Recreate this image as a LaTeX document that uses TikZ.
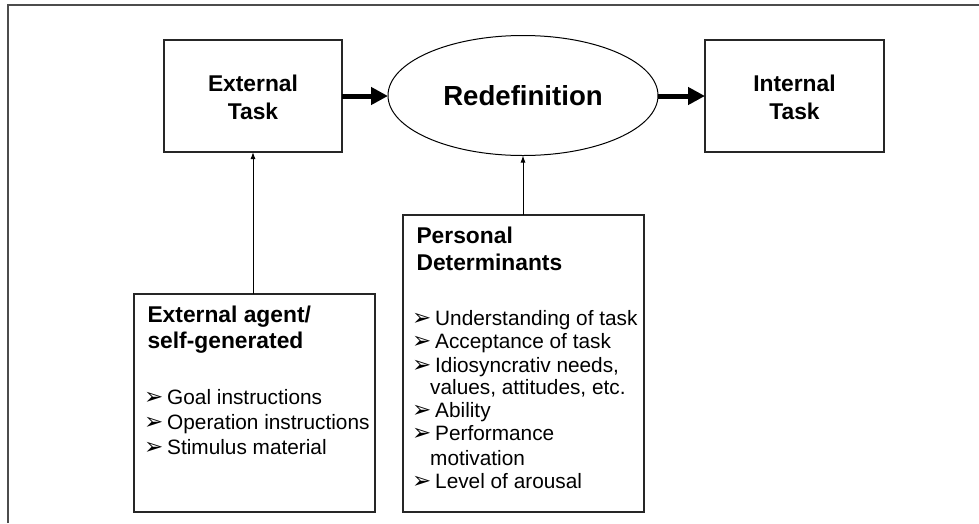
\documentclass[tikz,border=0pt]{standalone}
\usepackage{fontspec}
\setmainfont{Liberation Sans}
\newfontfamily\symfont{DejaVu Sans}
\usetikzlibrary{arrows.meta,shapes.geometric}

\begin{document}
\begin{tikzpicture}[x=1pt,y=-1pt,
  box/.style={draw=black!85,line width=1.4pt,inner sep=0pt,outer sep=0pt},
  oval/.style={draw=black,ellipse,line width=1pt,inner sep=0pt,outer sep=0pt},
  head/.style={anchor=base,font=\bfseries\fontsize{22.8}{27}\selectfont},
  big/.style={anchor=base,font=\bfseries\fontsize{27.6}{33}\selectfont},
  title/.style={anchor=base west,font=\bfseries\fontsize{22.8}{27}\selectfont},
  item/.style={anchor=base west,inner sep=0pt,font=\fontsize{20.8}{25}\selectfont},
  bullet/.style={anchor=base west,inner sep=0pt,font=\symfont\fontsize{23}{25}\selectfont},
  flow/.style={line width=5pt,-{Triangle[length=17pt,width=17pt]}},
  feed/.style={line width=1pt,-{Latex[length=7pt,width=5pt]}},
  frame/.style={draw=black!70,line width=2pt}]
\useasboundingbox (0,0) rectangle (979,523);

% outer frame (top and left edges)
\draw[frame] (8,523) -- (8,5) -- (979,5);

% main row
\node[box,minimum width=178pt,minimum height=112pt] (ext) at (253,96) {};
\node[oval,minimum width=270pt,minimum height=120pt] (redef) at (523,95.5) {};
\node[box,minimum width=179pt,minimum height=112pt] (int) at (794.5,96) {};

\node[head] (ext1) at (253,91) {External};
\node[head] (ext2) at (253,119) {Task};
\node[big] (redeftxt) at (523,105) {Redefinition};
\node[head] (int1) at (794.5,91) {Internal};
\node[head] (int2) at (794.5,119) {Task};

\draw[flow] (ext.east) -- (ext.east -| redef.west);
\draw[flow] (redef.east |- int.west) -- (int.west);

% lower boxes
\node[box,minimum width=241pt,minimum height=218pt] (agent) at (254.5,403) {};
\node[box,minimum width=241pt,minimum height=297pt] (pers) at (523.5,363.5) {};

\draw[feed] (agent.north -| ext.south) -- (ext.south);
\draw[feed] (pers.north -| redef.south) -- (redef.south);

% external agent box text
\node[title] (ag1) at (144,322) {External agent/};
\node[title] (ag2) at (144,348) {self-generated};
\node[bullet] (agb1) at (144,404) {➢};
\node[item] (agi1) at (167,404) {Goal instructions};
\node[bullet] (agb2) at (144,429) {➢};
\node[item] (agi2) at (167,429) {Operation instructions};
\node[bullet] (agb3) at (144,454) {➢};
\node[item] (agi3) at (167,454) {Stimulus material};

% personal determinants box text
\node[title] (pd1) at (413,243) {Personal};
\node[title] (pd2) at (413,270) {Determinants};
\node[bullet] (pdb1) at (412,325) {➢};
\node[item] (pdi1) at (435,325) {Understanding of task};
\node[bullet] (pdb2) at (412,348) {➢};
\node[item] (pdi2) at (435,348) {Acceptance of task};
\node[bullet] (pdb3) at (412,372) {➢};
\node[item] (pdi3) at (435,372) {Idiosyncrativ needs,};
\node[item] (pdi3b) at (430,394) {values, attitudes, etc.};
\node[bullet] (pdb4) at (412,417) {➢};
\node[item] (pdi4) at (435,417) {Ability};
\node[bullet] (pdb5) at (412,440) {➢};
\node[item] (pdi5) at (435,440) {Performance};
\node[item] (pdi5b) at (430,465) {motivation};
\node[bullet] (pdb6) at (412,488) {➢};
\node[item] (pdi6) at (435,488) {Level of arousal};
\end{tikzpicture}
\end{document}
